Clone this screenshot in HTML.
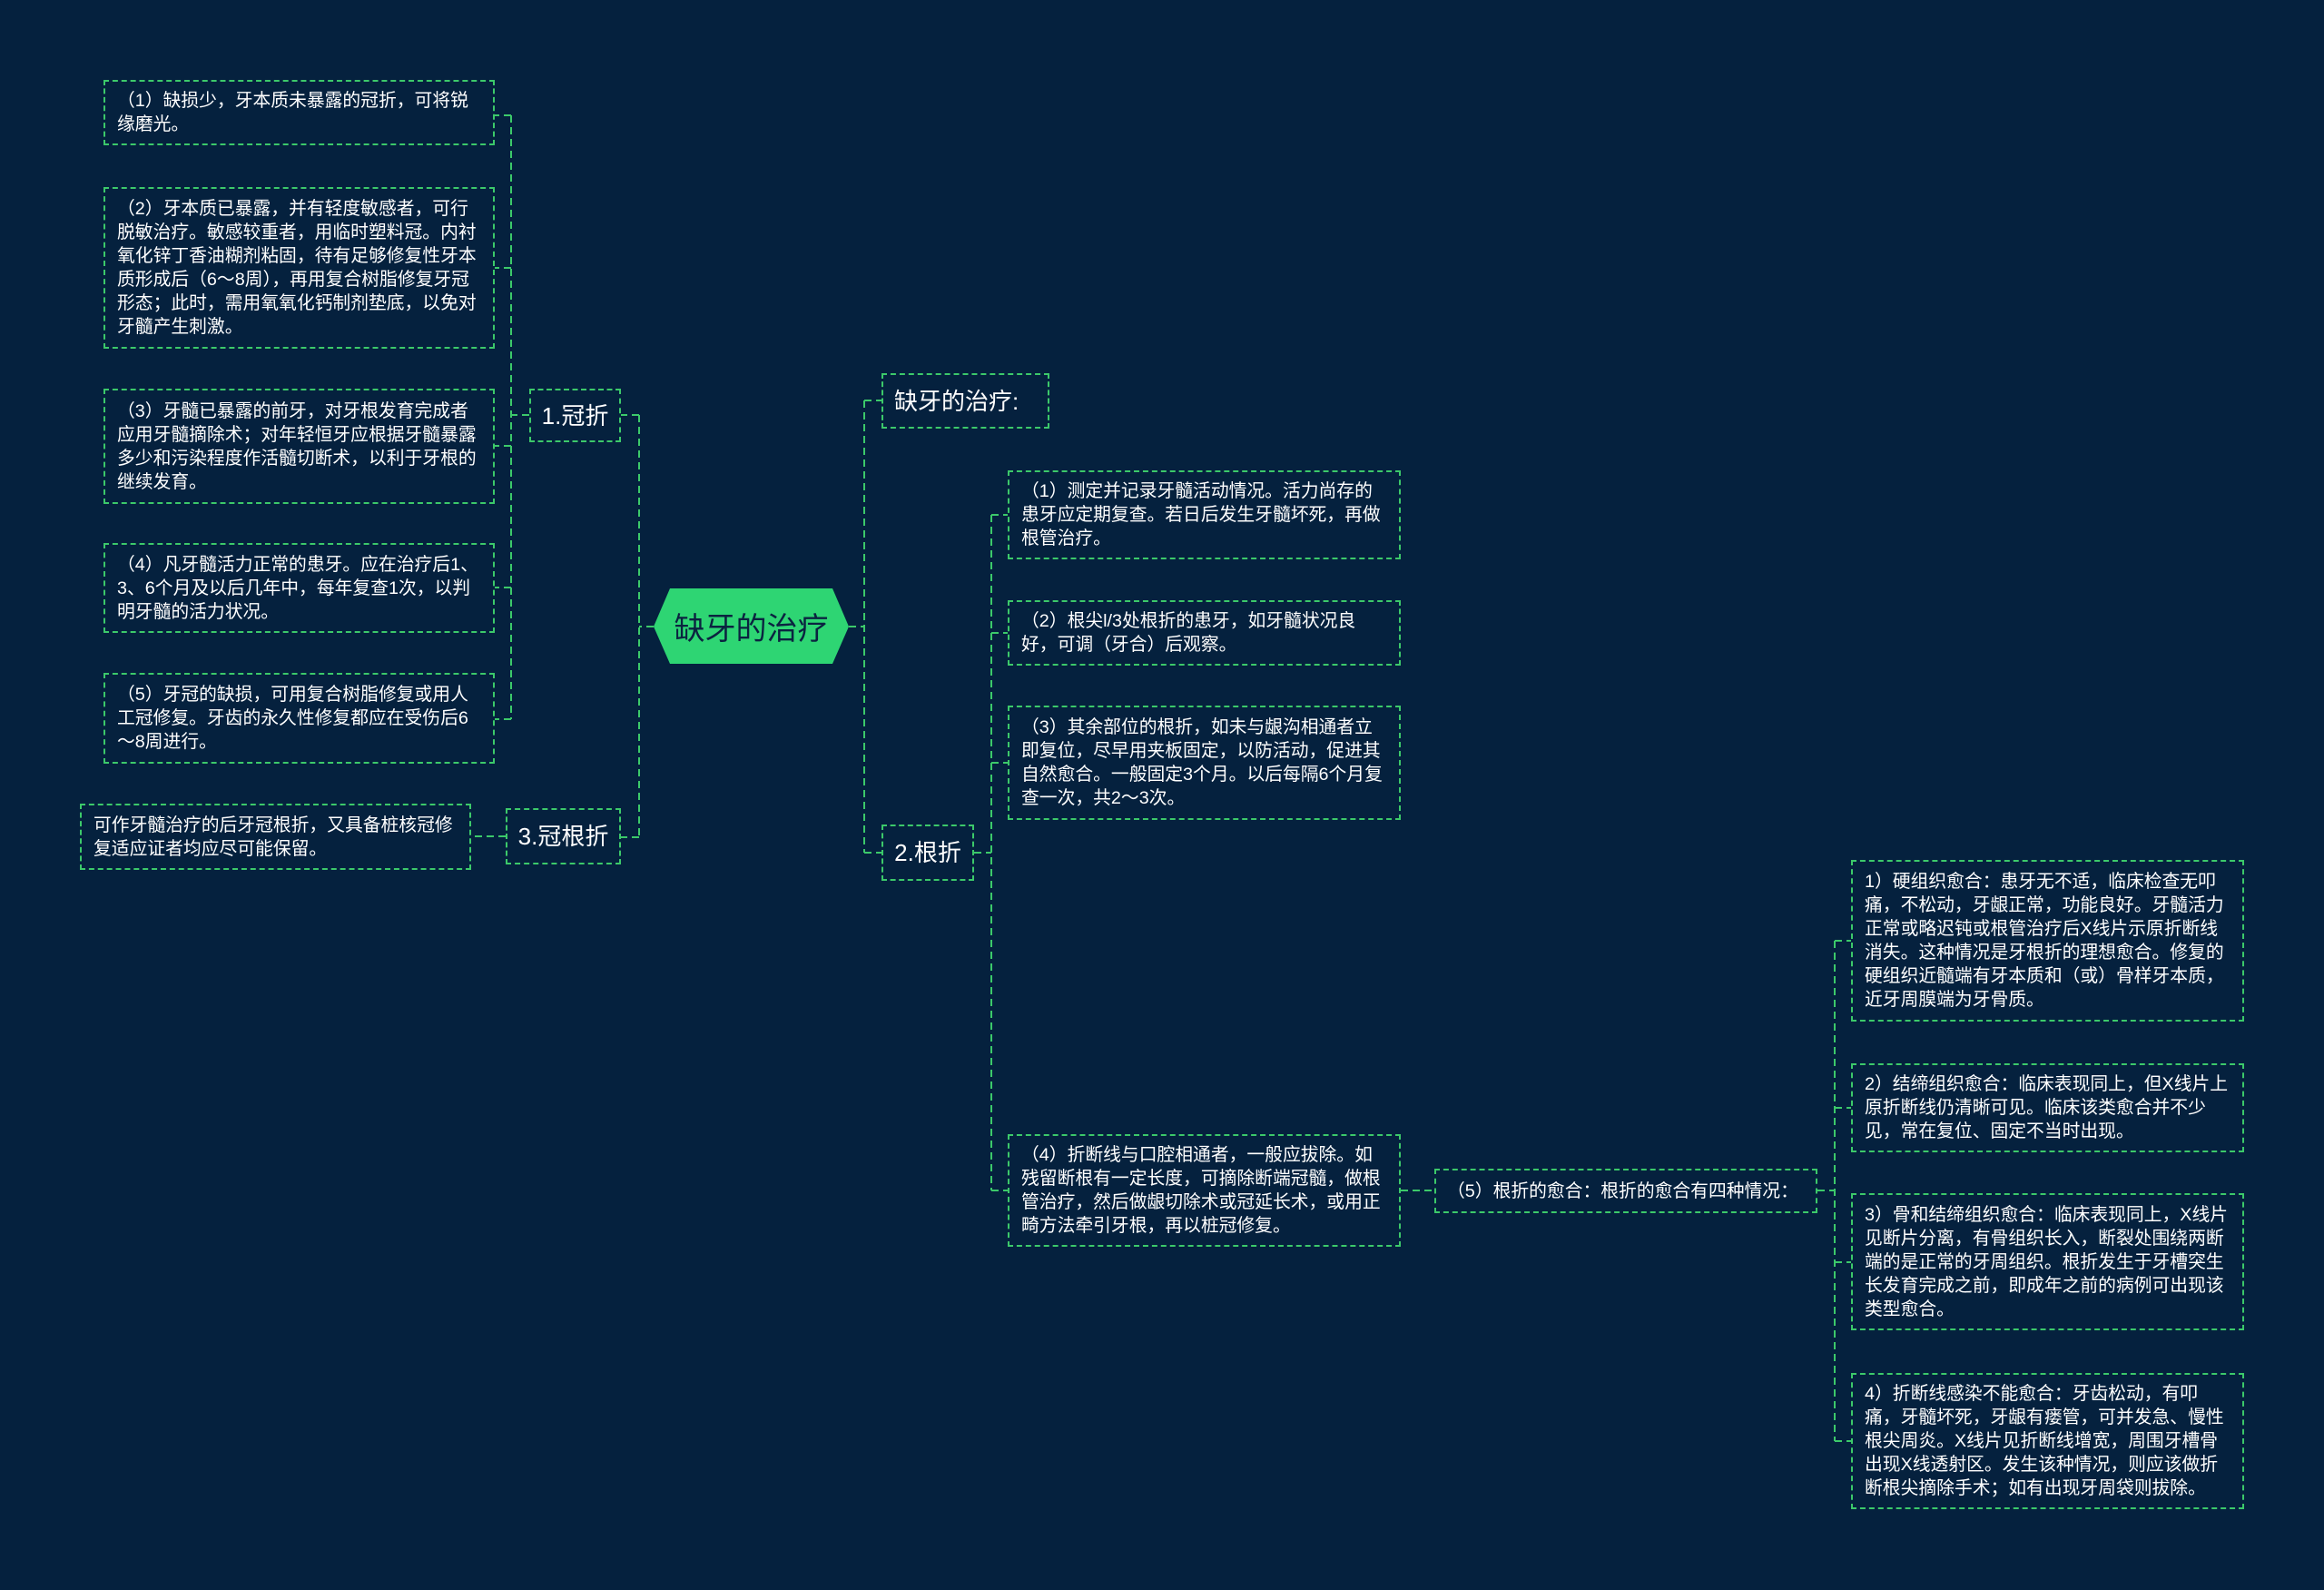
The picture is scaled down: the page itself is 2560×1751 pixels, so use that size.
<!DOCTYPE html>
<html><head><meta charset="utf-8"><style>
html,body{margin:0;padding:0}
body{width:2560px;height:1751px;background:#05213e;position:relative;overflow:hidden;font-family:"Liberation Sans","Noto Sans CJK SC",sans-serif;color:#fff}
.b{position:absolute;box-sizing:border-box;border:2px dashed #3cc96a;padding:8px 14px 8px 13px;font-size:19.8px;line-height:26px;display:flex;align-items:center}
.l{font-size:26px;justify-content:center;padding:0}
svg{position:absolute;left:0;top:0}
</style></head><body>
<svg width="2560" height="1751" fill="none" stroke="#3cc96a" stroke-width="2" stroke-dasharray="8,5">
<path d="M720 690 H704 M704 457 V922 M704 457 H684 M704 922 H684"/>
<path d="M935 690 H952 M952 441 V939 M952 441 H971 M952 939 H971"/>
<path d="M583 457 H563 M563 127 V792 M563 127 H545 M563 295 H545 M563 491 H545 M563 647 H545 M563 792 H545"/>
<path d="M557 921 H519"/>
<path d="M1073 939 H1092 M1092 567 V1311 M1092 567 H1110 M1092 697 H1110 M1092 840 H1110 M1092 1311 H1110"/>
<path d="M1543 1311 H1580"/>
<path d="M2002 1311 H2021 M2021 1036 V1587 M2021 1036 H2039 M2021 1220 H2039 M2021 1390 H2039 M2021 1587 H2039"/>
</svg>
<svg width="2560" height="1751"><polygon points="738,648 917,648 935,690 917,731 738,731 720,690" fill="#2ed573"/></svg>
<div style="position:absolute;left:720px;top:648px;width:215px;height:83px;display:flex;align-items:center;justify-content:center;font-size:34px;color:#0b2340">缺牙的治疗</div>

<div class="b l" style="left:583px;top:428px;width:101px;height:59px">1.冠折</div>
<div class="b l" style="left:557px;top:890px;width:127px;height:62px">3.冠根折</div>
<div class="b l" style="left:971px;top:411px;width:185px;height:61px;justify-content:flex-start;padding-left:12px">缺牙的治疗:</div>
<div class="b l" style="left:971px;top:908px;width:102px;height:62px">2.根折</div>

<div class="b" style="left:114px;top:88px;width:431px;height:72px">（1）缺损少，牙本质未暴露的冠折，可将锐缘磨光。</div>
<div class="b" style="left:114px;top:206px;width:431px;height:178px">（2）牙本质已暴露，并有轻度敏感者，可行脱敏治疗。敏感较重者，用临时塑料冠。内衬氧化锌丁香油糊剂粘固，待有足够修复性牙本质形成后（6～8周），再用复合树脂修复牙冠形态；此时，需用氧氧化钙制剂垫底，以免对牙髓产生刺激。</div>
<div class="b" style="left:114px;top:428px;width:431px;height:127px">（3）牙髓已暴露的前牙，对牙根发育完成者应用牙髓摘除术；对年轻恒牙应根据牙髓暴露多少和污染程度作活髓切断术，以利于牙根的继续发育。</div>
<div class="b" style="left:114px;top:598px;width:431px;height:99px">（4）凡牙髓活力正常的患牙。应在治疗后1、3、6个月及以后几年中，每年复查1次，以判明牙髓的活力状况。</div>
<div class="b" style="left:114px;top:741px;width:431px;height:100px">（5）牙冠的缺损，可用复合树脂修复或用人工冠修复。牙齿的永久性修复都应在受伤后6～8周进行。</div>
<div class="b" style="left:88px;top:885px;width:431px;height:73px">可作牙髓治疗的后牙冠根折，又具备桩核冠修复适应证者均应尽可能保留。</div>

<div class="b" style="left:1110px;top:518px;width:433px;height:98px">（1）测定并记录牙髓活动情况。活力尚存的患牙应定期复查。若日后发生牙髓坏死，再做根管治疗。</div>
<div class="b" style="left:1110px;top:661px;width:433px;height:72px">（2）根尖l/3处根折的患牙，如牙髓状况良好，可调（牙合）后观察。</div>
<div class="b" style="left:1110px;top:777px;width:433px;height:126px">（3）其余部位的根折，如未与龈沟相通者立即复位，尽早用夹板固定，以防活动，促进其自然愈合。一般固定3个月。以后每隔6个月复查一次，共2～3次。</div>
<div class="b" style="left:1110px;top:1249px;width:433px;height:124px">（4）折断线与口腔相通者，一般应拔除。如残留断根有一定长度，可摘除断端冠髓，做根管治疗，然后做龈切除术或冠延长术，或用正畸方法牵引牙根，再以桩冠修复。</div>
<div class="b" style="left:1580px;top:1287px;width:422px;height:49px;white-space:nowrap;padding-left:12px;padding-right:4px">（5）根折的愈合：根折的愈合有四种情况：</div>

<div class="b" style="left:2039px;top:947px;width:433px;height:178px">1）硬组织愈合：患牙无不适，临床检查无叩痛，不松动，牙龈正常，功能良好。牙髓活力正常或略迟钝或根管治疗后X线片示原折断线消失。这种情况是牙根折的理想愈合。修复的硬组织近髓端有牙本质和（或）骨样牙本质，近牙周膜端为牙骨质。</div>
<div class="b" style="left:2039px;top:1171px;width:433px;height:98px">2）结缔组织愈合：临床表现同上，但X线片上原折断线仍清晰可见。临床该类愈合并不少见，常在复位、固定不当时出现。</div>
<div class="b" style="left:2039px;top:1314px;width:433px;height:151px">3）骨和结缔组织愈合：临床表现同上，X线片见断片分离，有骨组织长入，断裂处围绕两断端的是正常的牙周组织。根折发生于牙槽突生长发育完成之前，即成年之前的病例可出现该类型愈合。</div>
<div class="b" style="left:2039px;top:1512px;width:433px;height:150px">4）折断线感染不能愈合：牙齿松动，有叩痛，牙髓坏死，牙龈有瘘管，可并发急、慢性根尖周炎。X线片见折断线增宽，周围牙槽骨出现X线透射区。发生该种情况，则应该做折断根尖摘除手术；如有出现牙周袋则拔除。</div>
</body></html>
